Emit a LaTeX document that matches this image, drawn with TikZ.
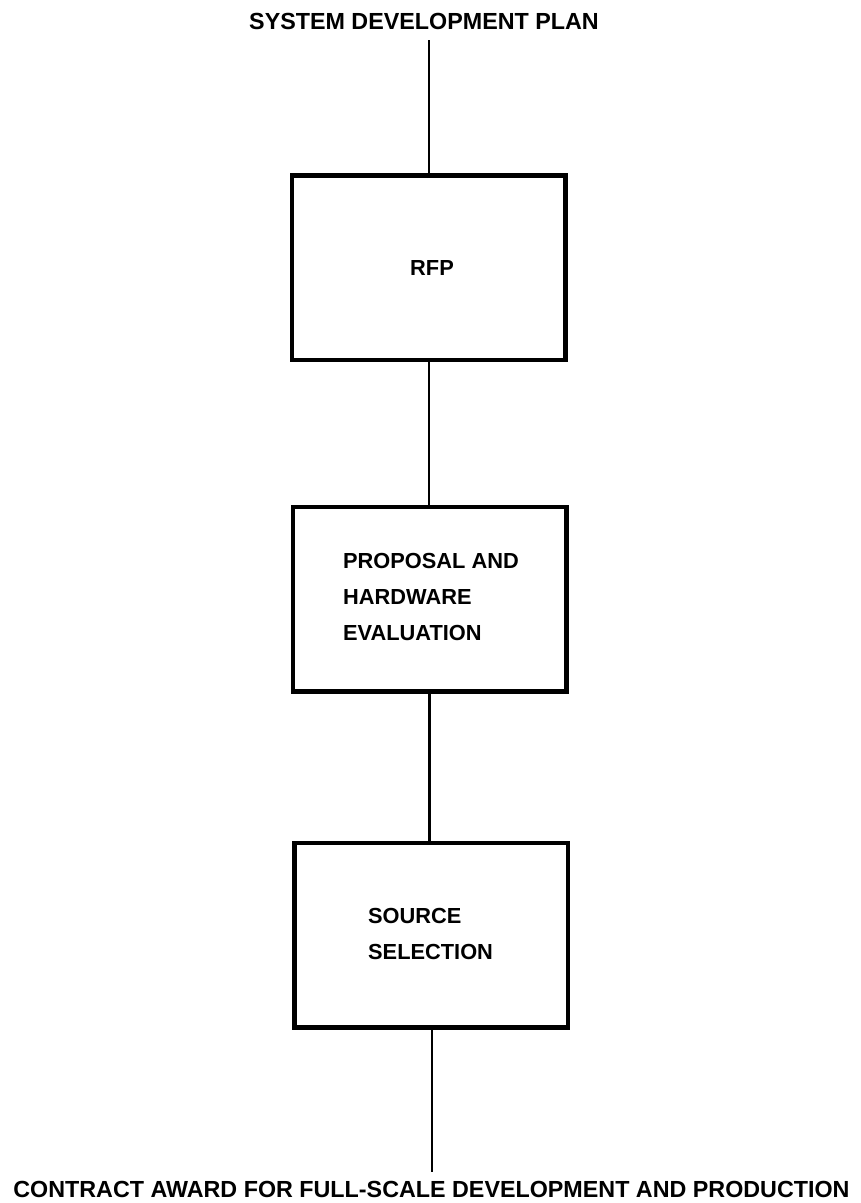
\documentclass[tikz,border=0pt]{standalone}
\usepackage{fontspec}
\setmainfont{Liberation Sans}
\begin{document}
\begin{tikzpicture}[x=1pt,y=-1pt,
  box/.style={draw, line width=4.5pt, minimum width=273.5pt, minimum height=184.5pt, inner sep=0pt},
  conn/.style={line width=2.8pt},
  lbl/.style={font=\fontsize{21.8}{36}\selectfont\bfseries, inner sep=0pt, align=left},
  ttl/.style={font=\fontsize{23.3}{28}\selectfont\bfseries, inner sep=0pt}]
\useasboundingbox[fill=white] (0,0) rectangle (861,1203);
% title texts
\node[ttl] (top) at (424,21.5) {SYSTEM DEVELOPMENT PLAN};
\node[ttl] (bot) at (431.5,1189) {CONTRACT AWARD FOR FULL-SCALE DEVELOPMENT AND PRODUCTION};
% boxes
\node[box] (rfp) at (428.5,267.5) {};
\node[box] (prop) at (429.5,599) {};
\node[box] (src) at (431,935) {};
% box labels
\node[lbl] (rfpt) at (432,267.5) {RFP};
\node[lbl, anchor=west] (propt) at (343,597) {PROPOSAL AND\\HARDWARE\\EVALUATION};
\node[lbl, anchor=west] (srct) at (368,934) {SOURCE\\SELECTION};
% connector end points
\coordinate (s0) at (429,40);
\coordinate (e0) at (432,1172);
% connectors
\draw[conn] (s0) -- (s0 |- rfp.north);
\draw[conn] (rfp.south -| s0) -- (prop.north -| s0);
\draw[conn] (prop.south) -- (prop.south |- src.north);
\draw[conn] (src.south -| e0) -- (e0);
\end{tikzpicture}
\end{document}
